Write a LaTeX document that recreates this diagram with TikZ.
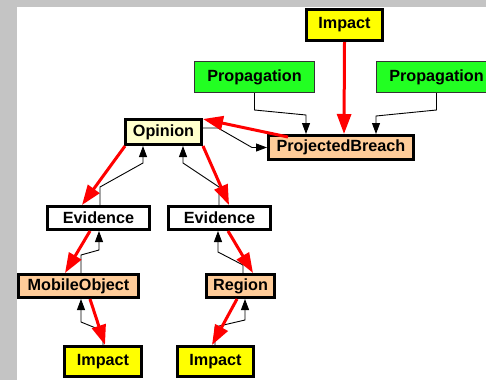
\documentclass[tikz,border=0pt]{standalone}
\usepackage{fontspec}
\setmainfont{Liberation Sans}
\usetikzlibrary{arrows.meta,calc}
\definecolor{impY}{RGB}{255,255,0}
\definecolor{propG}{RGB}{34,255,34}
\definecolor{opY}{RGB}{255,255,204}
\definecolor{peach}{RGB}{255,204,153}
\definecolor{bgGrey}{RGB}{196,196,196}
\definecolor{thinGrey}{RGB}{70,70,70}
\tikzset{
  box/.style={draw=black, line width=3pt, inner sep=0pt, font=\fontsize{16.2}{18}\selectfont\bfseries, text=black},
  thinbox/.style={draw=black!80, line width=1pt, inner sep=0pt, font=\fontsize{16.2}{18}\selectfont\bfseries, text=black},
  redarrow/.style={draw=red, line width=3pt, -{Triangle[length=20pt,width=14pt]}},
  thinarrow/.style={draw=thinGrey, line width=0.9pt, -{Triangle[length=11pt,width=8pt]}, black},
}
\begin{document}
\begin{tikzpicture}[x=1pt,y=-1pt]
\useasboundingbox (0,0) rectangle (486,380);
\fill[bgGrey] (0,0) rectangle (486,380);
\fill[white] (17,7) rectangle (486,380);

% nodes
\node[box, fill=impY, minimum width=76pt, minimum height=31pt] (impT) at (344.5,25) {Impact};
\node[thinbox, fill=propG, minimum width=120pt, minimum height=31pt] (propL) at (254.5,77) {Propagation};
\node[thinbox, fill=propG, minimum width=120pt, minimum height=31pt] (propR) at (436.5,77) {Propagation};
\node[box, fill=opY, minimum width=76pt, minimum height=25pt] (op) at (163.5,132) {Opinion};
\node[box, fill=peach, minimum width=145pt, minimum height=24pt] (pb) at (341,147.5) {ProjectedBreach};
\node[box, fill=white, minimum width=102pt, minimum height=23pt] (evL) at (98.5,218) {Evidence};
\node[box, fill=white, minimum width=102pt, minimum height=23pt] (evR) at (219.5,218) {Evidence};
\node[box, fill=peach, minimum width=120pt, minimum height=23pt] (mo) at (78.5,286) {MobileObject};
\node[box, fill=peach, minimum width=68pt, minimum height=23pt] (reg) at (240.5,286) {Region};
\node[box, fill=impY, minimum width=77pt, minimum height=30pt] (impL) at (103,361.5) {Impact};
\node[box, fill=impY, minimum width=76pt, minimum height=30pt] (impR) at (215.5,361.5) {Impact};

% thin connectors
\draw[thinarrow] (propL.south) -- ++(0,17) -- ($(pb.north west)+(39,-19)$) -- ($(pb.north west)+(39,0)$);
\draw[thinarrow] (propR.south) -- ++(0,17) -- ($(pb.north west)+(109,-18)$) -- ($(pb.north west)+(109,0)$);
\draw[thinarrow] ($(op.east)+(0,-4)$) -- ++(15,0) -- ($(pb.west)+(-15,0)$) -- (pb.west);
\draw[thinarrow] ($(evL.north west)+(54,0)$) -- ++(0,-18) -- ($(op.south west)+(19,17)$) -- ($(op.south west)+(19,0)$);
\draw[thinarrow] ($(evR.north west)+(52,0)$) -- ++(0,-18) -- ($(op.south west)+(59,17)$) -- ($(op.south west)+(59,0)$);
\draw[thinarrow] ($(mo.north west)+(64,0)$) -- ++(0,-18) -- ($(evL.south west)+(53,19)$) -- ($(evL.south west)+(53,0)$);
\draw[thinarrow] ($(reg.north west)+(38,0)$) -- ++(0,-8) -- ($(evR.south west)+(51,21)$) -- ($(evR.south west)+(51,0)$);
\draw[thinarrow] ($(impL.north west)+(40,0)$) -- ++(0,-14) -- ($(mo.south west)+(64,23)$) -- ($(mo.south west)+(64,0)$);
\draw[thinarrow] ($(impR.north west)+(39,0)$) -- ++(0,-18) -- ($(reg.south west)+(40,21)$) -- ($(reg.south west)+(40,0)$);

% red connectors
\draw[redarrow] (impT.south) -- ($(pb.north)+(3,0)$);
\draw[redarrow] ($(pb.north west)+(21,3)$) -- ($(op.north east)+(0,1)$);
\draw[redarrow] ($(op.south west)+(1,0)$) -- ($(evL.north west)+(36,0)$);
\draw[redarrow] (op.south east) -- ($(evR.north west)+(62,0)$);
\draw[redarrow] ($(evL.south west)+(44,0)$) -- ($(mo.north west)+(48,0)$);
\draw[redarrow] ($(evR.south west)+(61,0)$) -- ($(reg.north west)+(48,0)$);
\draw[redarrow] ($(mo.south west)+(73,0)$) -- ($(impL.north west)+(42,0)$);
\draw[redarrow] ($(reg.south west)+(32,0)$) -- ($(impR.north west)+(36,0)$);
\end{tikzpicture}
\end{document}
